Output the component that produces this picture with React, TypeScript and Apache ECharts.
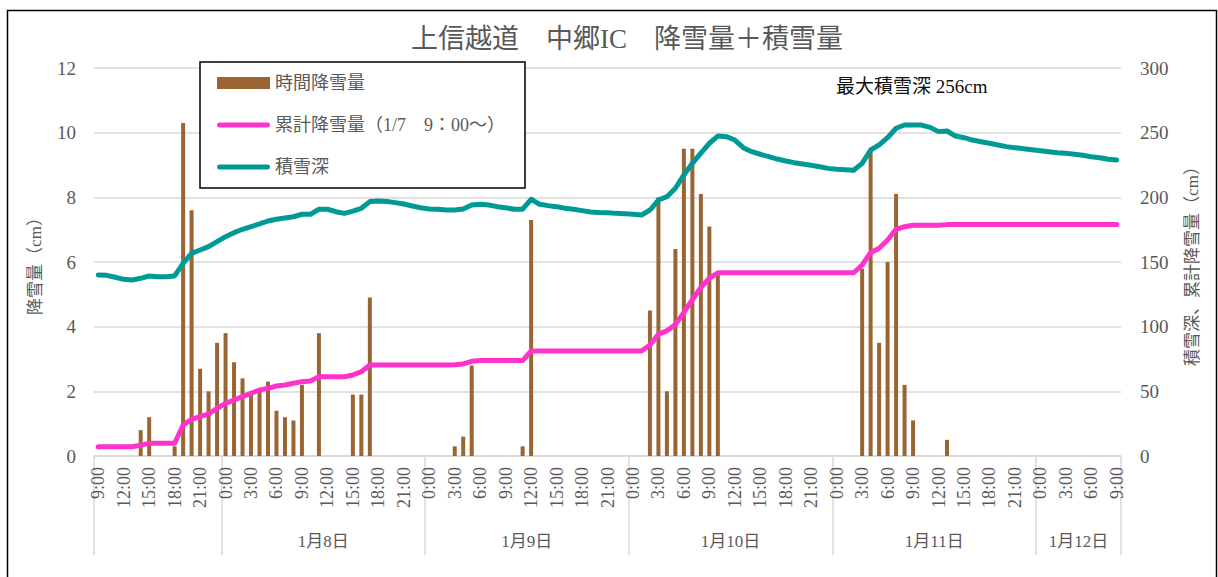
import React, { useEffect, useRef } from 'react';
import * as echarts from 'echarts';

// ---------- DATA ----------
const TITLE = '上信越道　中郷IC　降雪量＋積雪量';
const SERIES_NAMES = ['時間降雪量', '累計降雪量（1/7　9：00～）', '積雪深'];
const LEFT_AXIS_NAME = '降雪量（cm）';
const RIGHT_AXIS_NAME = '積雪深、累計降雪量（cm）';
const ANNOTATION = '最大積雪深 256cm';

// day group labels (the first, partial day has no label in the reference)
const DAY_LABELS = ['', '1月8日', '1月9日', '1月10日', '1月11日', '1月12日'];
const DAY_FIRST_HOUR = [9, 0, 0, 0, 0, 0];
const DAY_LAST_HOUR = [23, 23, 23, 23, 23, 9];

// hourly snowfall (cm), per day
const HOURLY_D7 = [0, 0, 0, 0, 0, 0.8, 1.2, 0, 0, 0.3, 10.3, 7.6, 2.7, 2.0, 3.5];
const HOURLY_D8 = [3.8, 2.9, 2.4, 2.0, 2.1, 2.3, 1.4, 1.2, 1.1, 2.2, 0, 3.8, 0, 0, 0, 1.9, 1.9, 4.9, 0, 0, 0, 0, 0, 0];
const HOURLY_D9 = [0, 0, 0, 0.3, 0.6, 2.8, 0, 0, 0, 0, 0, 0.3, 7.3, 0, 0, 0, 0, 0, 0, 0, 0, 0, 0, 0];
const HOURLY_D10 = [0, 0, 4.5, 8.0, 2.0, 6.4, 9.5, 9.5, 8.1, 7.1, 5.6, 0, 0, 0, 0, 0, 0, 0, 0, 0, 0, 0, 0, 0];
const HOURLY_D11 = [0, 0, 0, 5.8, 9.5, 3.5, 6.0, 8.1, 2.2, 1.1, 0, 0, 0, 0.5, 0, 0, 0, 0, 0, 0, 0, 0, 0, 0];
const HOURLY_D12 = [0, 0, 0, 0, 0, 0, 0, 0, 0, 0];

// cumulative snowfall (cm), per day
const CUM_D7 = [7.2, 7.2, 7.2, 7.2, 7.2, 8.4, 9.8, 9.8, 9.8, 9.8, 24.0, 28.4, 30.4, 32.5, 36.9];
const CUM_D8 = [40.7, 43.3, 45.9, 48.5, 51.0, 52.3, 54.1, 54.9, 56.2, 57.5, 58.0, 61.3, 61.3, 61.3, 61.3, 62.6, 65.2, 70.4, 70.4, 70.4, 70.4, 70.4, 70.4, 70.4];
const CUM_D9 = [70.4, 70.4, 70.4, 70.6, 71.2, 73.2, 73.8, 73.8, 73.8, 73.8, 73.8, 73.8, 81.2, 81.2, 81.2, 81.2, 81.2, 81.2, 81.2, 81.2, 81.2, 81.2, 81.2, 81.2];
const CUM_D10 = [81.2, 81.2, 85.8, 94.2, 96.8, 101.6, 111.0, 121.0, 130.3, 137.4, 141.7, 141.7, 141.7, 141.7, 141.7, 141.7, 141.7, 141.7, 141.7, 141.7, 141.7, 141.7, 141.7, 141.7];
const CUM_D11 = [141.7, 141.7, 141.7, 147.7, 157.2, 160.6, 167.0, 175.3, 177.3, 178.4, 178.4, 178.4, 178.4, 178.9, 178.9, 178.9, 178.9, 178.9, 178.9, 178.9, 178.9, 178.9, 178.9, 178.9];
const CUM_D12 = [178.9, 178.9, 178.9, 178.9, 178.9, 178.9, 178.9, 178.9, 178.9, 178.9];

// snow depth (cm), per day
const DEPTH_D7 = [140.0, 139.7, 138.2, 136.6, 136.1, 137.4, 139.2, 138.6, 138.6, 139.2, 149.0, 156.7, 159.3, 161.9, 165.7];
const DEPTH_D8 = [169.6, 172.7, 175.3, 177.3, 179.4, 181.7, 183.0, 184.0, 185.0, 186.9, 186.9, 190.8, 190.8, 188.9, 187.6, 189.4, 191.5, 196.7, 197.2, 196.7, 195.9, 194.8, 193.3, 192.0];
const DEPTH_D9 = [191.0, 190.8, 190.2, 190.2, 191.0, 194.1, 194.6, 194.1, 192.8, 192.0, 190.8, 190.8, 198.5, 194.6, 193.6, 192.8, 191.5, 190.8, 189.7, 188.7, 188.2, 188.0, 187.6, 187.4];
const DEPTH_D10 = [186.9, 186.3, 190.2, 197.9, 200.5, 207.0, 217.3, 226.3, 234.1, 241.8, 247.4, 246.9, 244.3, 238.4, 235.3, 233.3, 231.4, 229.6, 228.1, 226.8, 225.8, 224.8, 223.7, 222.4];
const DEPTH_D11 = [221.7, 221.4, 220.9, 226.3, 236.6, 240.5, 246.1, 253.4, 255.9, 256.0, 255.9, 254.1, 250.8, 251.3, 247.4, 246.1, 244.3, 243.0, 241.8, 240.5, 239.2, 238.4, 237.6, 236.8];
const DEPTH_D12 = [236.1, 235.3, 234.5, 234.0, 233.3, 232.5, 231.4, 230.6, 229.4, 228.9];

const HOURLY = [...HOURLY_D7, ...HOURLY_D8, ...HOURLY_D9, ...HOURLY_D10, ...HOURLY_D11, ...HOURLY_D12];
const CUMULATIVE = [...CUM_D7, ...CUM_D8, ...CUM_D9, ...CUM_D10, ...CUM_D11, ...CUM_D12];
const DEPTH = [...DEPTH_D7, ...DEPTH_D8, ...DEPTH_D9, ...DEPTH_D10, ...DEPTH_D11, ...DEPTH_D12];

// ---------- CATEGORY TABLES ----------
const HOUR_CATS: string[] = [];
const DAY_CATS: string[] = [];
const DAY_START_INDEX: number[] = [];
const DAY_LABEL_INDEX: number[] = [];
DAY_LABELS.forEach((d, k) => {
  const start = HOUR_CATS.length;
  DAY_START_INDEX.push(start);
  for (let h = DAY_FIRST_HOUR[k]; h <= DAY_LAST_HOUR[k]; h++) {
    HOUR_CATS.push(`${h}:00`);
    DAY_CATS.push(d);
  }
  const len = HOUR_CATS.length - start;
  if (d) DAY_LABEL_INDEX.push(start + Math.floor(len / 2) - 1);
});

const FONT = "'Liberation Serif', 'Noto Sans CJK JP', serif";
const GRAY = '#595959';
const GRID_GRAY = '#d9d9d9';
const BROWN = '#996633';
const PINK = '#ff33cc';
const TEAL = '#009a96';
const LINE_ICON = 'path://M2.5,0 L50.5,0 A2.5,2.5 0 0 1 50.5,5 L2.5,5 A2.5,2.5 0 0 1 2.5,0 Z';

export default function App() {
  const ref = useRef<HTMLDivElement>(null);
  useEffect(() => {
    document.body.style.margin = '0';
    const chart = echarts.init(ref.current!, null, { renderer: 'svg' });
    const option: any = {
      animation: false,
      backgroundColor: '#ffffff',
      title: {
        text: TITLE,
        left: 622,
        top: 20,
        textAlign: 'center',
        textStyle: { fontFamily: FONT, fontSize: 27, fontWeight: 'normal', color: GRAY },
      },
      legend: {
        orient: 'vertical',
        left: 200,
        top: 62,
        padding: [11, 20, 11, 17],
        itemGap: 22,
        itemWidth: 53,
        itemHeight: 12,
        borderColor: '#000',
        borderWidth: 1.5,
        backgroundColor: '#fff',
        textStyle: { fontFamily: FONT, fontSize: 18, color: GRAY, lineHeight: 20 },
        data: [
          { name: SERIES_NAMES[0], icon: 'rect' },
          { name: SERIES_NAMES[1], icon: LINE_ICON },
          { name: SERIES_NAMES[2], icon: LINE_ICON },
        ],
      },
      grid: { left: 94, right: 97, top: 68, bottom: 121, containLabel: false },
      xAxis: [
        {
          type: 'category',
          data: HOUR_CATS,
          boundaryGap: true,
          position: 'bottom',
          axisLine: { show: true, lineStyle: { color: GRID_GRAY, width: 1.5 } },
          axisTick: { show: false },
          axisLabel: {
            interval: 2,
            rotate: 90,
            margin: 11,
            fontFamily: FONT,
            fontSize: 18,
            color: GRAY,
          },
          splitLine: { show: false },
        },
        {
          type: 'category',
          data: DAY_CATS,
          boundaryGap: true,
          position: 'bottom',
          offset: 0,
          axisLine: { show: false },
          axisTick: {
            show: true,
            length: 99,
            interval: (index: number) => DAY_START_INDEX.includes(index),
            lineStyle: { color: GRID_GRAY, width: 1.5 },
          },
          axisLabel: {
            interval: (index: number) => DAY_LABEL_INDEX.includes(index),
            margin: 77,
            padding: [0, 0, 0, 8.5],
            fontFamily: FONT,
            fontSize: 17,
            color: GRAY,
          },
          splitLine: { show: false },
        },
      ],
      yAxis: [
        {
          type: 'value',
          min: 0,
          max: 12,
          interval: 2,
          position: 'left',
          name: LEFT_AXIS_NAME,
          nameLocation: 'middle',
          nameRotate: 90,
          nameGap: 50,
          nameTextStyle: { fontFamily: FONT, fontSize: 17, color: GRAY },
          axisLine: { show: false },
          axisTick: { show: false },
          axisLabel: { margin: 18, fontFamily: FONT, fontSize: 19, color: GRAY },
          splitLine: { show: true, lineStyle: { color: GRID_GRAY, width: 1.5 } },
        },
        {
          type: 'value',
          min: 0,
          max: 300,
          interval: 50,
          position: 'right',
          name: RIGHT_AXIS_NAME,
          nameLocation: 'middle',
          nameRotate: 90,
          nameGap: 63,
          nameTextStyle: { fontFamily: FONT, fontSize: 17, color: GRAY },
          axisLine: { show: false },
          axisTick: { show: false },
          axisLabel: { margin: 19, fontFamily: FONT, fontSize: 19, color: GRAY },
          splitLine: { show: false },
        },
      ],
      series: [
        {
          name: SERIES_NAMES[0],
          type: 'bar',
          data: HOURLY,
          xAxisIndex: 0,
          yAxisIndex: 0,
          barWidth: 4,
          itemStyle: { color: BROWN },
        },
        {
          name: SERIES_NAMES[1],
          type: 'line',
          data: CUMULATIVE,
          xAxisIndex: 0,
          yAxisIndex: 1,
          showSymbol: false,
          symbol: 'none',
          lineStyle: { color: PINK, width: 5, cap: 'round', join: 'round' },
          itemStyle: { color: PINK },
        },
        {
          name: SERIES_NAMES[2],
          type: 'line',
          data: DEPTH,
          xAxisIndex: 0,
          yAxisIndex: 1,
          showSymbol: false,
          symbol: 'none',
          lineStyle: { color: TEAL, width: 5, cap: 'round', join: 'round' },
          itemStyle: { color: TEAL },
        },
      ],
      graphic: [
        {
          type: 'rect',
          left: 5,
          top: 8,
          shape: { x: 0, y: 0, width: 1209, height: 580 },
          style: { fill: 'none', stroke: '#000', lineWidth: 1.5 },
          silent: true,
          z: 100,
        },
        {
          type: 'text',
          left: 836,
          top: 77,
          style: { text: ANNOTATION, fill: '#111', font: `19px ${FONT}` },
          z: 100,
        },
      ],
    };
    chart.setOption(option);
    return () => chart.dispose();
  }, []);
  return <div ref={ref} style={{ width: 1218, height: 577 }} />;
}
